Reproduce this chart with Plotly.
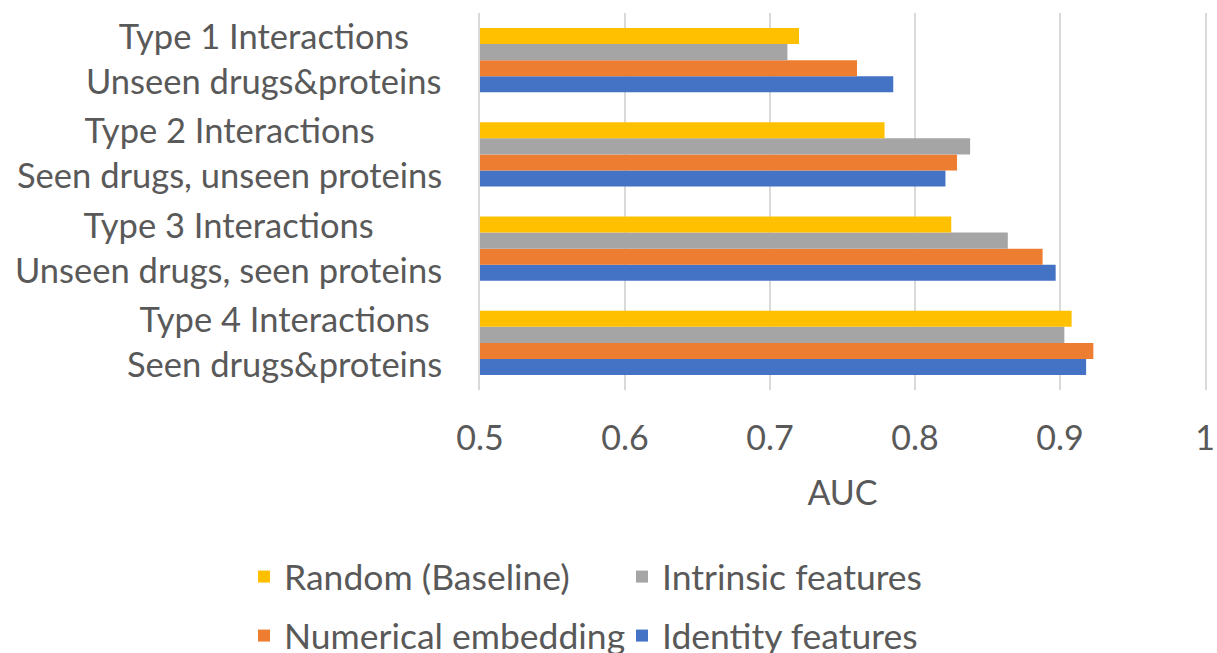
import plotly.graph_objects as go

# Test categories (top to bottom) and their two-line labels
categories = ["Type 1", "Type 2", "Type 3", "Type 4"]
category_titles = ["Type 1 Interactions", "Type 2 Interactions",
                   "Type 3 Interactions", "Type 4 Interactions"]
category_subtitles = ["Unseen drugs&proteins", "Seen drugs, unseen proteins",
                      "Unseen drugs, seen proteins", "Seen drugs&proteins"]

# AUC per model, in category order
random_baseline = [0.720, 0.779, 0.825, 0.908]
intrinsic_features = [0.712, 0.838, 0.864, 0.903]
numerical_embedding = [0.760, 0.829, 0.888, 0.923]
identity_features = [0.785, 0.821, 0.897, 0.918]

x_ticks = [0.5, 0.6, 0.7, 0.8, 0.9, 1.0]
x_tick_text = ["0.5", "0.6", "0.7", "0.8", "0.9", "1"]

FONT = "Lato"
TEXT = "#595959"
GRID = "#D9D9D9"

# drawn bottom-to-top inside each group; each entry gets its own legend box
# placed on a 2x2 grid: (legend id, column x px, row y px)
series = [
    ("Identity features", identity_features, "#4472C4", "legend4", 622, 636),
    ("Numerical embedding", numerical_embedding, "#ED7D31", "legend3", 244, 636),
    ("Intrinsic features", intrinsic_features, "#A5A5A5", "legend2", 622, 577),
    ("Random (Baseline)", random_baseline, "#FFC000", "legend", 244, 577),
]

W, H = 1217, 653

fig = go.Figure()
legends = {}
for name, vals, color, leg, lx, ly in series:
    fig.add_trace(go.Bar(
        name=name, x=vals, y=categories, orientation="h",
        marker=dict(color=color, line=dict(width=0)),
        legend=leg, showlegend=True,
    ))
    legends[leg] = dict(
        visible=True,
        orientation="h", xref="container", yref="container",
        x=lx / W, y=1 - ly / H, xanchor="left", yanchor="middle",
        font=dict(family=FONT, size=35.5, color=TEXT),
        bgcolor="rgba(0,0,0,0)", itemclick=False,
    )

annotations = []
for cat, t, s in zip(categories, category_titles, category_subtitles):
    label = (t + "<br>" + s).replace("&", "&amp;")
    annotations.append(dict(
        x=0, xref="paper", y=cat, yref="y", xshift=-36, yshift=2,
        xanchor="right", yanchor="middle", align="center",
        text=label, showarrow=False,
        font=dict(family=FONT, size=34.5, color=TEXT),
    ))

fig.update_layout(
    width=W, height=H,
    showlegend=True,
    margin=dict(l=480, r=12, t=13, b=263, autoexpand=False),
    paper_bgcolor="white", plot_bgcolor="white",
    barmode="group", bargap=0.32, bargroupgap=0,
    font=dict(family=FONT, size=34, color=TEXT),
    xaxis=dict(
        range=[0.5, 1.0], tickvals=x_ticks, ticktext=x_tick_text,
        showgrid=True, gridcolor=GRID, gridwidth=2,
        zeroline=False, showline=False, automargin=False,
        ticks="outside", ticklen=18, tickcolor="rgba(0,0,0,0)",
        tickfont=dict(family=FONT, size=34, color=TEXT),
        title=dict(text="AUC", standoff=25,
                   font=dict(family=FONT, size=34, color=TEXT)),
    ),
    yaxis=dict(
        categoryorder="array", categoryarray=categories[::-1],
        showticklabels=False, showgrid=False, zeroline=False,
        showline=True, mirror=True, linecolor=GRID, linewidth=2,
        automargin=False,
    ),
    annotations=annotations,
    **legends,
)

fig.write_html("out.html")
